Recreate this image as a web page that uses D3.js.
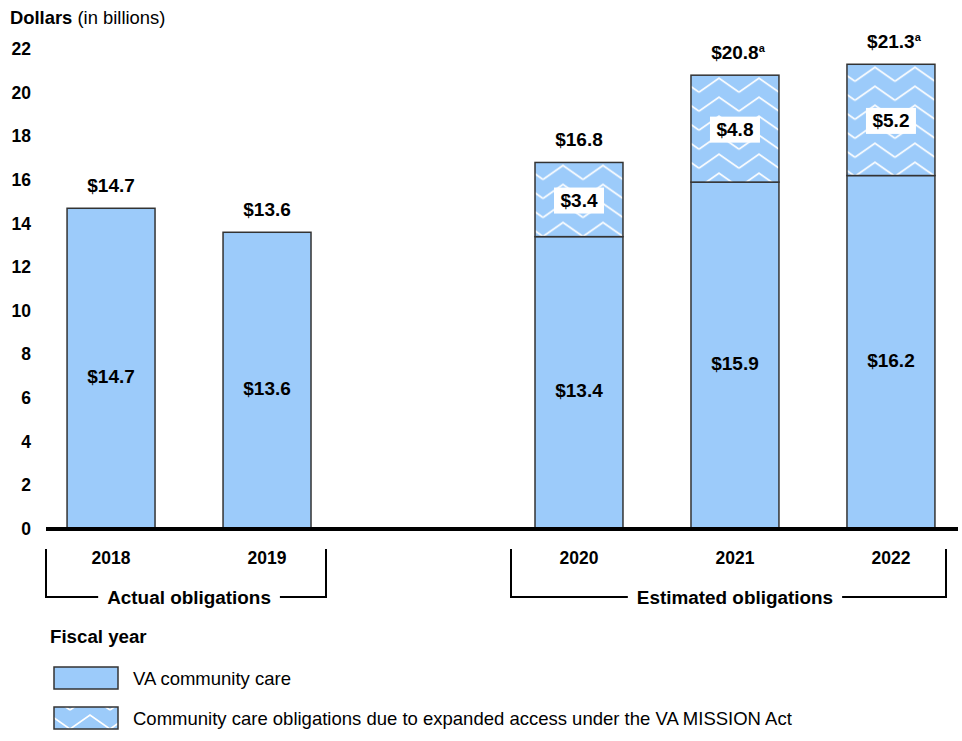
<!DOCTYPE html>
<html><head><meta charset="utf-8">
<script src="https://cdn.jsdelivr.net/npm/d3@7"></script>
<style>
body{margin:0;background:#fff;}
text{font-family:"Liberation Sans",Arial,sans-serif;fill:#000;}
</style></head>
<body><svg id="c" width="962" height="741"></svg>
<script>
const slots = ["2018","2019","gap","2020","2021","2022"];
const years = ["2018","2019","2020","2021","2022"];
const baseValues = [14.7, 13.6, 13.4, 15.9, 16.2];
const missionValues = [null, null, 3.4, 4.8, 5.2];
const totalValues = [14.7, 13.6, 16.8, 20.8, 21.3];
const totalNotes = ["", "", "", "a", "a"];
const yTicks = [0,2,4,6,8,10,12,14,16,18,20,22];
const groups = [
  {label:"Actual obligations", years:["2018","2019"]},
  {label:"Estimated obligations", years:["2020","2021","2022"]}
];
const legendItems = [
  {label:"VA community care", pattern:false},
  {label:"Community care obligations due to expanded access under the VA MISSION Act", pattern:true}
];

const svg = d3.select("#c");
const fill = "#9ccbfa";
const stroke = "#333";
const defs = svg.append("defs");
let patId = 0;
function makePattern(px, py){
  const id = "zig" + (patId++);
  const pat = defs.append("pattern").attr("id",id).attr("patternUnits","userSpaceOnUse")
    .attr("width",40).attr("height",19).attr("x",px).attr("y",py);
  pat.append("rect").attr("width",40).attr("height",19).attr("fill",fill);
  pat.append("path").attr("d","M0,14 L20,0 L40,14 M0,-5 L20,-19 L40,-5 M0,33 L20,19 L40,33")
    .attr("fill","none").attr("stroke","#fff").attr("stroke-width",1.6);
  return "url(#" + id + ")";
}

const x = d3.scaleBand().domain(slots).range([46,956]).paddingInner(0.436).paddingOuter(0.135);
const y = d3.scaleLinear().domain([0,22]).range([529,49]);

// y tick labels
svg.append("g").selectAll("text").data(yTicks).join("text")
  .attr("x",31).attr("y",d=>y(d)).attr("text-anchor","end").attr("dominant-baseline","central")
  .attr("font-size",17.5).attr("font-weight","bold").text(d=>d);

// axis title
const t = svg.append("text").attr("x",10).attr("y",24).attr("font-size",18.4);
t.append("tspan").attr("font-weight","bold").text("Dollars");
t.append("tspan").text(" (in billions)");

const data = years.map((yr,i)=>({yr, base:baseValues[i], mission:missionValues[i], total:totalValues[i], note:totalNotes[i]}));

// base bars
svg.append("g").selectAll("rect").data(data).join("rect")
  .attr("x",d=>x(d.yr)).attr("width",x.bandwidth())
  .attr("y",d=>y(d.base)).attr("height",d=>y(0)-y(d.base))
  .attr("fill",fill).attr("stroke",stroke).attr("stroke-width",1.5);

// mission segments
const md = data.filter(d=>d.mission!=null);
svg.append("g").selectAll("rect").data(md).join("rect")
  .attr("x",d=>x(d.yr)).attr("width",x.bandwidth())
  .attr("y",d=>y(d.total)).attr("height",d=>y(d.base)-y(d.total))
  .attr("fill",d=>makePattern(x(d.yr)+8, y(d.total)+3))
  .attr("stroke",stroke).attr("stroke-width",1.5);

// axis line
svg.append("line").attr("x1",46).attr("x2",958).attr("y1",y(0)).attr("y2",y(0))
  .attr("stroke","#000").attr("stroke-width",4);

// base labels
svg.append("g").selectAll("text").data(data).join("text")
  .attr("x",d=>x(d.yr)+x.bandwidth()/2).attr("y",d=>(y(d.base)+y(0))/2+8)
  .attr("text-anchor","middle").attr("dominant-baseline","central")
  .attr("font-size",19).attr("font-weight","bold").text(d=>"$"+d.base.toFixed(1));

// mission labels with white box
const ml = svg.append("g").selectAll("g").data(md).join("g")
  .attr("transform",d=>`translate(${x(d.yr)+x.bandwidth()/2},${(y(d.base)+y(d.total))/2+1})`);
ml.append("rect").attr("x",-25).attr("y",-13).attr("width",50).attr("height",26).attr("fill","#fff");
ml.append("text").attr("text-anchor","middle").attr("dominant-baseline","central")
  .attr("font-size",19).attr("font-weight","bold").text(d=>"$"+d.mission.toFixed(1));

// totals
const tl = svg.append("g").selectAll("text").data(data).join("text")
  .attr("x",d=>x(d.yr)+x.bandwidth()/2+(d.note?3:0)).attr("y",d=>y(d.total)-16)
  .attr("text-anchor","middle").attr("font-size",19).attr("font-weight","bold");
tl.append("tspan").text(d=>"$"+d.total.toFixed(1));
tl.filter(d=>d.note).append("tspan").attr("font-size",11).attr("dy",-7).text(d=>d.note);

// year labels
svg.append("g").selectAll("text").data(years).join("text")
  .attr("x",d=>x(d)+x.bandwidth()/2).attr("y",564)
  .attr("text-anchor","middle").attr("font-size",17.5).attr("font-weight","bold").text(d=>d);

// brackets
const brY = 597, brTop = 549;
const brackets = [{x1:46,x2:326},{x1:511,x2:946}];
groups.forEach((g,i)=>{
  const b = brackets[i];
  const cx = (x(g.years[0])+x(g.years[g.years.length-1])+x.bandwidth())/2;
  const txt = svg.append("text").attr("x",cx).attr("y",brY+7).attr("text-anchor","middle")
    .attr("font-size",18.9).attr("font-weight","bold").text(g.label);
  const w = txt.node().getComputedTextLength();
  const gap = 9;
  svg.append("path").attr("d",`M${b.x1},${brTop}V${brY}H${cx-w/2-gap}M${cx+w/2+gap},${brY}H${b.x2}V${brTop}`)
    .attr("fill","none").attr("stroke","#000").attr("stroke-width",2);
});

// legend
svg.append("text").attr("x",50).attr("y",643).attr("font-size",18.7).attr("font-weight","bold").text("Fiscal year");
const lg = svg.append("g").selectAll("g").data(legendItems).join("g")
  .attr("transform",(d,i)=>`translate(54,${667+i*40})`);
lg.append("rect").attr("width",64).attr("height",22)
  .attr("fill",(d,i)=>d.pattern?makePattern(54+2, 667+i*40+4):fill).attr("stroke",stroke).attr("stroke-width",1.5);
lg.append("text").attr("x",79).attr("y",11).attr("dominant-baseline","central")
  .attr("font-size",18.5).text(d=>d.label);
</script></body></html>
